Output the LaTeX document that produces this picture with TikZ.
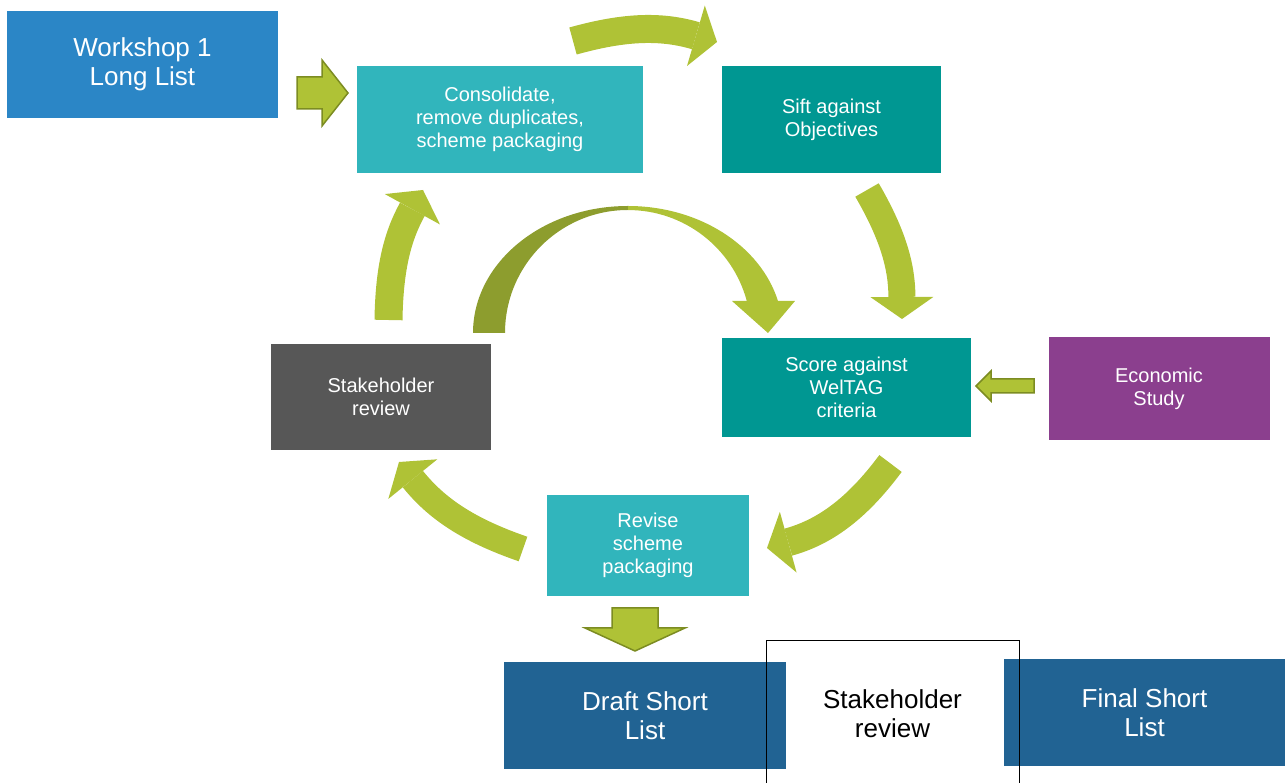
\documentclass[tikz,border=0pt]{standalone}
\usepackage{fontspec}
\setmainfont{Liberation Sans}
\usetikzlibrary{arrows.meta,calc}

\definecolor{wsblue}{RGB}{43,134,198}
\definecolor{lightteal}{RGB}{49,181,188}
\definecolor{darkteal}{RGB}{0,151,146}
\definecolor{slate}{RGB}{87,87,87}
\definecolor{plum}{RGB}{139,63,142}
\definecolor{navy}{RGB}{33,99,147}
\definecolor{arrowgreen}{RGB}{175,194,54}
\definecolor{arrowedge}{RGB}{124,140,34}
\definecolor{arcshade}{RGB}{141,157,46}

\tikzset{
  box/.style={rectangle, inner sep=0pt, align=center, text=white,
    font=\fontsize{20}{23}\selectfont},
  bigbox/.style={box, font=\fontsize{26}{29}\selectfont},
  listbox/.style={box, fill=navy, minimum width=282pt, minimum height=107pt,
    font=\fontsize{26}{29}\selectfont},
  swoosh/.style={draw=arrowgreen, line width=#1,
    -{Triangle[width=63pt, length=22pt, line width=0pt]}},
  swoosh/.default=28pt
}

% fat arrow: tail, tip, shaft half width, head half width, head length
\newcommand{\blockarrow}[5]{%
  \coordinate (hb) at ($(#2)!#5!(#1)$);
  \filldraw[fill=arrowgreen, draw=arrowedge, line width=1.5pt]
    ($(#1)!#3!90:(#2)$) -- ($(hb)!#3!90:(#2)$) -- ($(hb)!#4!90:(#2)$) -- (#2)
    -- ($(hb)!#4!-90:(#2)$) -- ($(hb)!#3!-90:(#2)$) -- ($(#1)!#3!-90:(#2)$) -- cycle;}

\begin{document}
\begin{tikzpicture}[x=1pt, y=1pt]
	\useasboundingbox (0,0) rectangle (1285,782);

	% 1. Boxes of the sifting cycle
	\node[bigbox, fill=wsblue, minimum width=271pt, minimum height=107pt] (wsh) at (142.5, 717.5) {Workshop 1\\Long List};
	\node[box, fill=lightteal, minimum width=286pt, minimum height=107pt] (cons) at (500, 662.5) {Consolidate,\\remove duplicates,\\scheme packaging};
	\node[box, fill=darkteal, minimum width=219pt, minimum height=107pt] (sift) at (831.5, 662.5) {Sift against\\Objectives};
	\node[box, fill=darkteal, minimum width=249pt, minimum height=99pt] (score) at (846.5, 394.5) {Score against\\WelTAG\\criteria};
	\node[box, fill=plum, minimum width=221pt, minimum height=103pt] (econ) at (1159, 393) {Economic\\Study};
	\node[box, fill=lightteal, minimum width=202pt, minimum height=101pt] (revise) at (648, 236.5) {Revise\\scheme\\packaging};
	\node[box, fill=slate, minimum width=220pt, minimum height=106pt] (stake) at (381, 385) {Stakeholder\\review};

	% 2. Short list row
	\node[listbox] (draft) at (645, 66.5) {Draft Short\\List};
	\node[listbox, minimum width=281pt] (final) at (1144.5, 69.5) {Final Short\\List};
	\node[listbox, fill=none, text=black] (review) at (892.5, 68.5) {Stakeholder\\review};
	\draw[line width=0.8pt] (766, -20) rectangle (1019, 142);

	% 3. Fat straight arrows
	\coordinate (wsh-out) at (297, 689);
	\coordinate (cons-in) at (348, 689);
	\coordinate (econ-out) at (1034, 396);
	\coordinate (score-in) at (976, 396);
	\coordinate (revise-out) at (635, 174);
	\coordinate (draft-in) at (635, 131);
	\blockarrow{wsh-out}{cons-in}{16pt}{33pt}{26pt}
	\blockarrow{econ-out}{score-in}{7pt}{15pt}{15pt}
	\blockarrow{revise-out}{draft-in}{23pt}{50pt}{23pt}

	% 4. Curved arrows round the cycle
	\coordinate (cons-out) at (573, 741);
	\coordinate (sift-in) at (717, 740);
	\coordinate (sift-out) at (867, 592);
	\coordinate (score-top) at (902, 463);
	\coordinate (score-out) at (890.5, 318.5);
	\coordinate (revise-in) at (767, 234);
	\coordinate (revise-left) at (523, 233);
	\coordinate (stake-in) at (399, 320);
	\coordinate (stake-out) at (388.5, 462);
	\coordinate (cons-bot) at (423, 592);
	\draw[swoosh] (cons-out) to[bend left=16] (sift-in);
	\draw[swoosh=27pt] (sift-out) to[bend left=15] (score-top);
	\draw[swoosh] (score-out) to[bend left=19] (revise-in);
	\draw[swoosh=26pt] (revise-left) to[bend left=16] (stake-in);
	\draw[swoosh] (stake-out) to[bend left=14] (cons-bot);

	% 5. Arch from the stakeholder review over to the scoring
	\coordinate (hub) at (628, 449);
	\fill[arcshade] (hub) ++(-155,0) arc[start angle=180, end angle=90, x radius=155, y radius=127]
		-- ++(0,-4) arc[start angle=90, end angle=180, radius=123] -- cycle;
	\fill[arrowgreen] (hub) ++(0,127) arc[start angle=90, end angle=14.6, x radius=155, y radius=127]
		-- ++(17,0) -- (768, 449) -- (732, 481) -- ++(14.8,0)
		arc[start angle=15.1, end angle=90, radius=123] -- cycle;

\end{tikzpicture}
\end{document}
